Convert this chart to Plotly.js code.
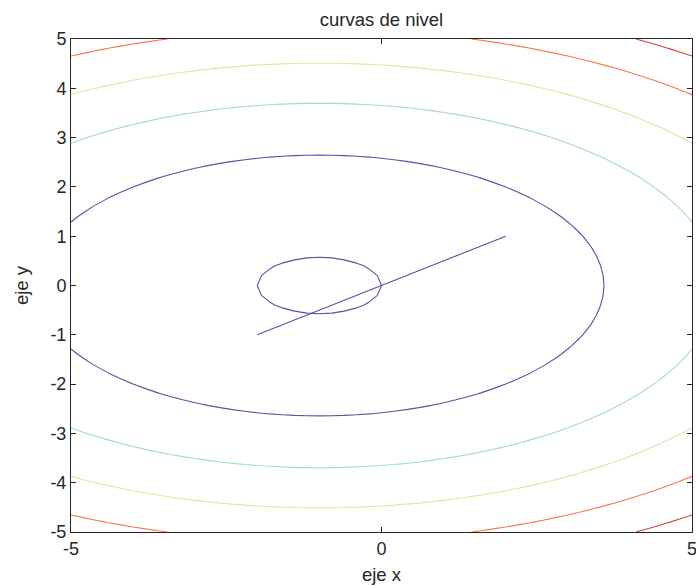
<!DOCTYPE html>
<html>
<head>
<meta charset="utf-8">
<script src="https://cdn.plot.ly/plotly-3.0.1.min.js"></script>
<style>html,body{margin:0;padding:0;background:#fff;}#plot{width:696px;height:586px;}</style>
</head>
<body>
<div id="plot"></div>
<script>
// Level-curve function: f(x,y) = (x - cx)^2 + ky * y^2
var centerX = -1;
var yWeight = 3;
var gridX = [];
var gridY = [];
for (var i = 0; i <= 50; i++) { gridX.push(-5 + i * 0.2); gridY.push(-5 + i * 0.2); }
var levels = [1, 21, 41, 61, 81, 101];
var levelColors = ['#5e4fa2', '#5e4fa2', '#a6dbc4', '#dce8a0', '#f47a45', '#c9473f'];
// path drawn on top of the contours
var pathX = [-2, 0, 2];
var pathY = [-1, 0, 1];
var xTicks = [-5, 0, 5];
var yTicks = [-5, -4, -3, -2, -1, 0, 1, 2, 3, 4, 5];

var z = gridY.map(function (yy) {
  return gridX.map(function (xx) { return (xx - centerX) * (xx - centerX) + yWeight * yy * yy; });
});

var traces = levels.map(function (lv, k) {
  return {
    type: 'contour', x: gridX, y: gridY, z: z,
    autocontour: false,
    contours: {start: lv, end: lv, size: 20, coloring: 'none', showlabels: false},
    line: {color: levelColors[k], width: 1.1, smoothing: 0},
    showscale: false, hoverinfo: 'skip'
  };
});
traces.push({
  type: 'scatter', mode: 'lines', x: pathX, y: pathY,
  line: {color: '#5e4fa2', width: 1.1}, hoverinfo: 'skip'
});

var FONT = 'Liberation Sans, Arial, sans-serif';
var axisCommon = {
  showgrid: false, zeroline: false, showline: true, mirror: 'ticks',
  linecolor: '#262626', linewidth: 1, ticks: 'inside', ticklen: 5,
  tickcolor: '#262626', ticklabeloverflow: 'allow',
  tickfont: {family: FONT, size: 18, color: '#262626'}
};

var layout = {
  width: 696, height: 586,
  margin: {l: 71, r: 4, t: 39, b: 54},
  paper_bgcolor: '#fff', plot_bgcolor: '#fff',
  showlegend: false,
  font: {family: FONT, color: '#262626'},
  title: {text: 'curvas de nivel', xref: 'paper', x: 0.5, xanchor: 'center', yref: 'container', y: 0.966, yanchor: 'middle', font: {size: 18.5, color: '#262626'}},
  xaxis: Object.assign({}, axisCommon, {
    range: [-5, 5], tickvals: xTicks, ticktext: xTicks.map(String),
    title: {text: 'eje x', font: {size: 18.5, color: '#262626'}, standoff: 10}
  }),
  yaxis: Object.assign({}, axisCommon, {
    range: [-5, 5], tickvals: yTicks, ticktext: yTicks.map(String),
    title: {text: 'eje y', font: {size: 18.5, color: '#262626'}, standoff: 16}
  })
};

Plotly.newPlot('plot', traces, layout, {staticPlot: true, displayModeBar: false});
</script>
</body>
</html>
